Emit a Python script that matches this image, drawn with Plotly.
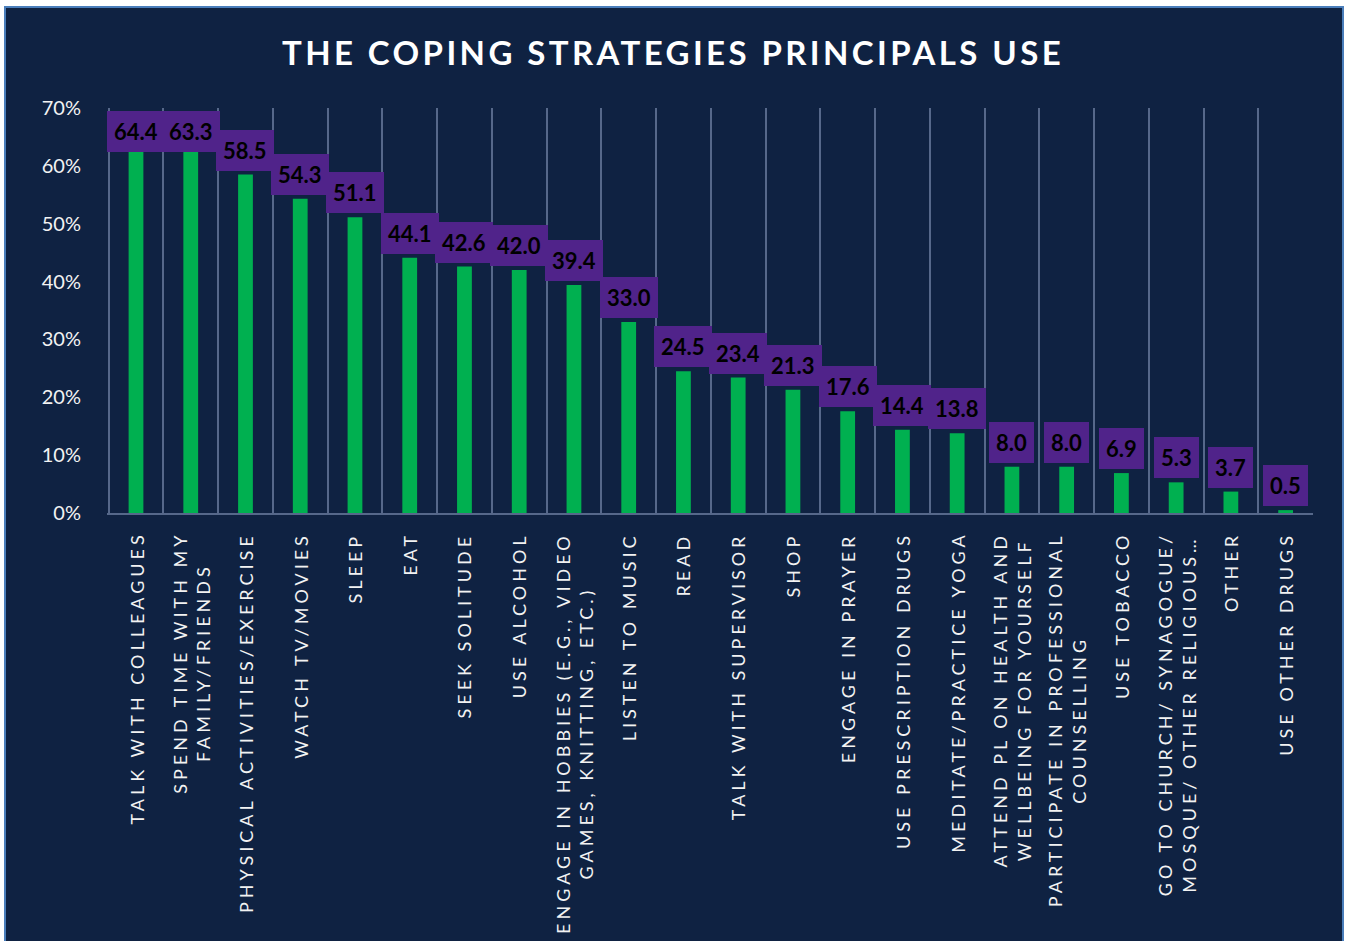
import plotly.graph_objects as go

categories = [
    "TALK WITH COLLEAGUES",
    "SPEND TIME WITH MY\nFAMILY/FRIENDS",
    "PHYSICAL ACTIVITIES/EXERCISE",
    "WATCH TV/MOVIES",
    "SLEEP",
    "EAT",
    "SEEK SOLITUDE",
    "USE ALCOHOL",
    "ENGAGE IN HOBBIES (E.G., VIDEO\nGAMES, KNITTING, ETC.)",
    "LISTEN TO MUSIC",
    "READ",
    "TALK WITH SUPERVISOR",
    "SHOP",
    "ENGAGE IN PRAYER",
    "USE PRESCRIPTION DRUGS",
    "MEDITATE/PRACTICE YOGA",
    "ATTEND PL ON HEALTH AND\nWELLBEING FOR YOURSELF",
    "PARTICIPATE IN PROFESSIONAL\nCOUNSELLING",
    "USE TOBACCO",
    "GO TO CHURCH/ SYNAGOGUE/\nMOSQUE/ OTHER RELIGIOUS…",
    "OTHER",
    "USE OTHER DRUGS",
]
values = [64.4, 63.3, 58.5, 54.3, 51.1, 44.1, 42.6, 42.0, 39.4, 33.0, 24.5,
          23.4, 21.3, 17.6, 14.4, 13.8, 8.0, 8.0, 6.9, 5.3, 3.7, 0.5]
y_ticks = [0, 10, 20, 30, 40, 50, 60, 70]
y_tick_text = ["0%", "10%", "20%", "30%", "40%", "50%", "60%", "70%"]
title_text = "THE COPING STRATEGIES PRINCIPALS USE"

NAVY = "#0f2242"
GREEN = "#00b050"
PURPLE = "#50238a"
GRID = "#56688a"
BORDER = "#4a7ebb"

W, H = 1346, 941
L, R, T, B = 107, 33, 108, 428
PX_PER_UNIT = (H - T - B) / 70.0

keys = [c.replace("\n", " ") for c in categories]

fig = go.Figure()
fig.add_trace(go.Bar(
    x=keys, y=values, marker=dict(color=GREEN, line=dict(width=0)),
    width=0.27, hoverinfo="skip",
))

def spaced(s, px):
    return "<br>".join(
        f"<span style='letter-spacing:{px}px'>{line}</span>" for line in s.split("\n")
    )

annotations = []
# data labels in purple boxes (kept inside the plot area at the top)
cap = 70 - 48 / PX_PER_UNIT
for k, v in zip(keys, values):
    annotations.append(dict(
        x=k, y=min(v, cap), xref="x", yref="y",
        text=f"<b>{v:.1f}</b>", showarrow=False,
        yanchor="bottom", xanchor="center", yshift=4,
        bgcolor=PURPLE, borderpad=7, borderwidth=0,
        font=dict(family="Lato", size=22, color="#000000"),
    ))
# category labels (rotated, letter-spaced, centred lines)
for k, c in zip(keys, categories):
    annotations.append(dict(
        x=k, y=0, xref="x", yref="paper",
        text=spaced(c, 4), showarrow=False, textangle=-90,
        yanchor="top", xanchor="center", yshift=-17, align="center",
        font=dict(family="Lato", size=18, color="#f2f2f2"),
    ))

# chart box background
def px_x(p):
    return (p - L) / (W - L - R)

def px_y(p):
    return (H - B - p) / (H - T - B)

shapes = [dict(
    type="rect", xref="paper", yref="paper",
    x0=px_x(5), x1=px_x(1343), y0=px_y(960), y1=px_y(7),
    fillcolor=NAVY, line=dict(color=BORDER, width=2), layer="below",
)]

fig.update_layout(
    width=W, height=H,
    margin=dict(l=L, r=R, t=T, b=B, pad=0),
    paper_bgcolor="white", plot_bgcolor="rgba(0,0,0,0)",
    showlegend=False,
    title=dict(
        text=f"<b><span style='letter-spacing:3.4px'>{title_text}</span></b>",
        x=0.5, xanchor="center", xref="container",
        y=1 - 53 / H, yanchor="middle", yref="container",
        font=dict(family="Lato", size=33, color="#ffffff"),
    ),
    xaxis=dict(
        type="category", showticklabels=False, tickson="boundaries",
        showgrid=True, gridcolor=GRID, gridwidth=2,
        showline=True, linecolor=GRID, linewidth=2,
        ticks="", zeroline=False, fixedrange=True,
    ),
    yaxis=dict(
        range=[0, 70], tickvals=y_ticks, ticktext=y_tick_text,
        showgrid=False, zeroline=False, showline=False,
        ticks="outside", ticklen=21, tickcolor="rgba(0,0,0,0)",
        tickfont=dict(family="Lato", size=20, color="#f2f2f2"),
        fixedrange=True,
    ),
    bargap=0.73,
    annotations=annotations,
    shapes=shapes,
)

fig.write_html(
    "out.html",
    include_plotlyjs=True,
    config={"displayModeBar": False},
    post_script="document.body.style.margin='0';document.documentElement.style.overflow='hidden';",
)
